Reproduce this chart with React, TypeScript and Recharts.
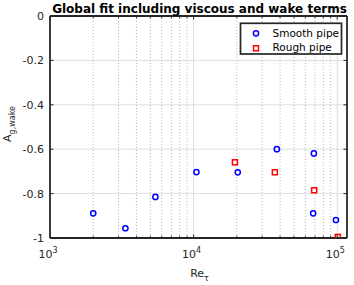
import React from 'react';
import { ScatterChart, Scatter, XAxis, YAxis, ReferenceLine } from 'recharts';

const title = 'Global fit including viscous and wake terms';
const seriesNames = ['Smooth pipe', 'Rough pipe'];

const smoothRe = [2000, 3350, 5420, 10460, 20300, 38000, 68800, 68000, 98000];
const smoothA = [-0.889, -0.956, -0.815, -0.703, -0.704, -0.6, -0.619, -0.889, -0.919];
const roughRe = [19400, 36800, 69100, 101000];
const roughA = [-0.659, -0.704, -0.785, -0.995];

const xTicks = [
  1000, 2000, 3000, 4000, 5000, 6000, 7000, 8000, 9000,
  10000, 20000, 30000, 40000, 50000, 60000, 70000, 80000, 90000,
  100000,
];
const majorX = [1000, 10000, 100000];
const yTicks = [-1, -0.8, -0.6, -0.4, -0.2, 0];
const yTickLabels = ['-1', '-0.8', '-0.6', '-0.4', '-0.2', '0'];
const xDomain = [1000, 117000];
const yDomain = [-1, 0];

const smoothData = smoothRe.map((x, i) => ({ x, y: smoothA[i] }));
const roughData = roughRe.map((x, i) => ({ x, y: roughA[i] }));

const FONT = 'DejaVu Sans';
const AXIS = '#262626';
const BLUE = '#0000ff';
const RED = '#ff0000';
const AXW = 1.8;

const BottomTick = (props: any) => {
  const { x, y, payload } = props;
  const v = payload.value;
  const major = majorX.includes(v);
  const exp = Math.round(Math.log10(v));
  return (
    <g>
      <line x1={x} x2={x} y1={y} y2={y - (major ? 3.5 : 2.2)} stroke={AXIS} strokeWidth={1} />
      {major && (
        <text x={x - 2} y={y + 20} textAnchor="middle" fontFamily={FONT} fontSize={11} fill={AXIS}>
          10
          <tspan dy={-5} fontSize={8}>{exp}</tspan>
        </text>
      )}
    </g>
  );
};

const TopTick = (props: any) => {
  const { x, y, payload } = props;
  const major = majorX.includes(payload.value);
  return <line x1={x} x2={x} y1={y} y2={y + (major ? 3.5 : 2.2)} stroke={AXIS} strokeWidth={1} />;
};

const LeftTick = (props: any) => {
  const { x, y, payload } = props;
  const i = yTicks.indexOf(payload.value);
  return (
    <g>
      <line x1={x} x2={x + 3.5} y1={y} y2={y} stroke={AXIS} strokeWidth={1} />
      <text x={x - 6} y={y} dy="0.36em" textAnchor="end" fontFamily={FONT} fontSize={11} fill={AXIS}>
        {i >= 0 ? yTickLabels[i] : payload.value}
      </text>
    </g>
  );
};

const RightTick = (props: any) => {
  const { x, y } = props;
  return <line x1={x} x2={x - 3.5} y1={y} y2={y} stroke={AXIS} strokeWidth={1} />;
};

const TitleLabel = (props: any) => {
  const vb = props.viewBox || { x: 50, width: 297 };
  return (
    <text x={vb.x + vb.width / 2 + 1} y={13} textAnchor="middle" fontFamily={FONT} fontSize={12} fontWeight="bold" fill="#000">
      {title}
    </text>
  );
};

const XLabel = (props: any) => {
  const vb = props.viewBox || { x: 50, width: 297 };
  return (
    <text x={vb.x + vb.width / 2 + 1} y={277} textAnchor="middle" fontFamily={FONT} fontSize={11} fill={AXIS}>
      Re
      <tspan dy={3.5} fontSize={8}>τ</tspan>
    </text>
  );
};

const YLabel = () => (
  <text
    transform="translate(11,124) rotate(-90)"
    textAnchor="middle"
    fontFamily={FONT}
    fontSize={11}
    fill={AXIS}
  >
    A
    <tspan dy={3.5} fontSize={8}>g,wake</tspan>
  </text>
);

// Legend box drawn relative to the right axis' view box (top-right corner of the plot)
const LegendLabel = (props: any) => {
  const vb = props.viewBox || { x: 347, y: 16 };
  const left = vb.x - 106.5;
  const top = vb.y + 7.3;
  return (
    <g>
      <rect x={left} y={top} width={101} height={30.7} fill="#fff" stroke={AXIS} strokeWidth={1.7} />
      <circle cx={left + 15.5} cy={top + 10} r={2.6} fill="none" stroke={BLUE} strokeWidth={1.5} />
      <text x={left + 32} y={top + 13.4} fontFamily={FONT} fontSize={10.5} fill="#000">{seriesNames[0]}</text>
      <rect x={left + 13} y={top + 22.5} width={5} height={5} fill="none" stroke={RED} strokeWidth={1.5} />
      <text x={left + 32} y={top + 27.8} fontFamily={FONT} fontSize={10.5} fill="#000">{seriesNames[1]}</text>
    </g>
  );
};

const Circle = (props: any) => (
  <circle cx={props.cx} cy={props.cy} r={2.6} fill="none" stroke={BLUE} strokeWidth={1.5} />
);
const Square = (props: any) => (
  <rect x={props.cx - 2.5} y={props.cy - 2.5} width={5} height={5} fill="none" stroke={RED} strokeWidth={1.5} />
);

export default function App() {
  return (
    <div style={{ position: 'fixed', left: 0, top: 0, width: 354, height: 285, background: '#fff' }}>
      <ScatterChart width={354} height={285} margin={{ top: 0, right: 0, bottom: 0, left: 10 }}>
        {yTicks.slice(1, -1).map((v) => (
          <ReferenceLine key={'h' + v} xAxisId="b" yAxisId="l" y={v} stroke="#dedede" strokeWidth={1} />
        ))}
        {xTicks.slice(1).map((v) =>
          majorX.includes(v) ? (
            <ReferenceLine key={'v' + v} xAxisId="b" yAxisId="l" x={v} stroke="#dedede" strokeWidth={1} />
          ) : (
            <ReferenceLine key={'v' + v} xAxisId="b" yAxisId="l" x={v} stroke="#b8b8b8" strokeWidth={1} strokeDasharray="1 2" />
          )
        )}
        <XAxis
          xAxisId="b"
          dataKey="x"
          type="number"
          scale="log"
          domain={xDomain}
          allowDataOverflow
          ticks={xTicks}
          interval={0}
          height={47}
          tickSize={0}
          tickMargin={0}
          tick={<BottomTick />}
          axisLine={{ stroke: AXIS, strokeWidth: AXW }}
          tickLine={false}
          label={<XLabel />}
        />
        <XAxis
          xAxisId="t"
          orientation="top"
          dataKey="x"
          type="number"
          scale="log"
          domain={xDomain}
          allowDataOverflow
          ticks={xTicks}
          interval={0}
          height={16}
          tickSize={0}
          tickMargin={0}
          tick={<TopTick />}
          axisLine={{ stroke: AXIS, strokeWidth: AXW }}
          tickLine={false}
          label={<TitleLabel />}
        />
        <YAxis
          yAxisId="l"
          dataKey="y"
          type="number"
          domain={yDomain}
          allowDataOverflow
          ticks={yTicks}
          interval={0}
          width={40}
          tickSize={0}
          tickMargin={0}
          tick={<LeftTick />}
          axisLine={{ stroke: AXIS, strokeWidth: AXW }}
          tickLine={false}
          label={<YLabel />}
        />
        <YAxis
          yAxisId="r"
          orientation="right"
          dataKey="y"
          type="number"
          domain={yDomain}
          allowDataOverflow
          ticks={yTicks}
          interval={0}
          width={7}
          tickSize={0}
          tickMargin={0}
          tick={<RightTick />}
          axisLine={{ stroke: AXIS, strokeWidth: AXW }}
          tickLine={false}
          label={<LegendLabel />}
        />
        <Scatter name={seriesNames[0]} data={smoothData} xAxisId="b" yAxisId="l" shape={<Circle />} isAnimationActive={false} />
        <Scatter name={seriesNames[1]} data={roughData} xAxisId="b" yAxisId="l" shape={<Square />} isAnimationActive={false} />
      </ScatterChart>
    </div>
  );
}
